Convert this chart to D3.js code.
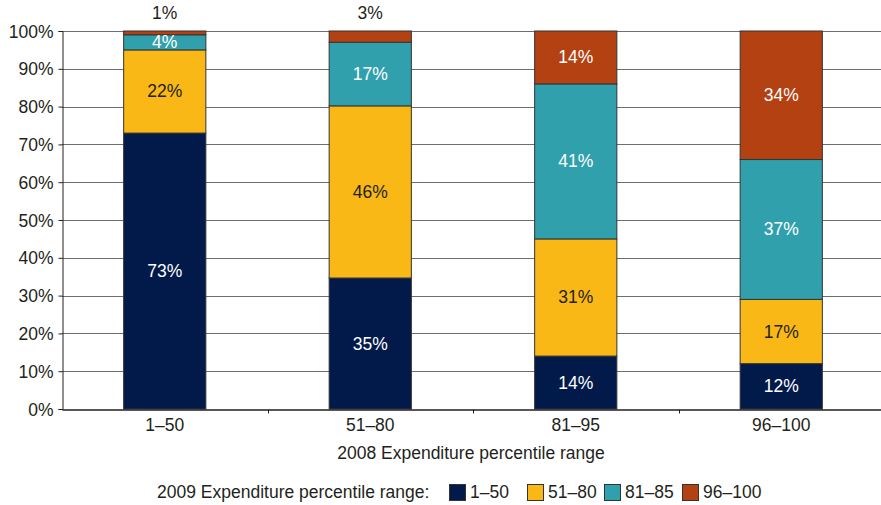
<!DOCTYPE html>
<html lang="en">
<head>
<meta charset="utf-8">
<title>Expenditure percentile transitions</title>
<script src="https://cdn.jsdelivr.net/npm/d3@7"></script>
<style>
  body { margin: 0; background: #fff; }
  text { font-family: "Liberation Sans", Arial, Helvetica, sans-serif; fill: #231f20; }
</style>
</head>
<body>
<script>
// 2008 groups (x axis)
var groups2008 = ["1\u201350", "51\u201380", "81\u201395", "96\u2013100"];
// 2009 groups (stack layers)
var groups2009 = ["1\u201350", "51\u201380", "81\u201385", "96\u2013100"];
var colors = ["#021a4a", "#f9b816", "#31a0ad", "#b34112"];
var labelColors = ["#fff", "#231f20", "#fff", "#fff"];

// share (%) of each 2008 group landing in each 2009 group
var pct1to50   = [73, 22, 4, 1];
var pct51to80  = [35, 46, 17, 3];
var pct81to95  = [14, 31, 41, 14];
var pct96to100 = [12, 17, 37, 34];

var yTicks = [0, 10, 20, 30, 40, 50, 60, 70, 80, 90, 100];

var w = 881, h = 505;
var margin = {top: 31, right: 1, bottom: 96, left: 62};
var fs = "17.5px";

var rows = [pct1to50, pct51to80, pct81to95, pct96to100].map(function(v, i) {
  var total = d3.sum(v);
  var r = {group: groups2008[i]};
  v.forEach(function(p, j) { r["k" + j] = p * 100 / total; r["l" + j] = p; });
  return r;
});
var keys = groups2009.map(function(d, j) { return "k" + j; });
var series = d3.stack().keys(keys)(rows);

var svg = d3.select("body").append("svg").attr("width", w).attr("height", h);

// band range runs a little past the right edge, like the original
var x = d3.scaleBand().domain(groups2008)
  .range([margin.left, 884]).paddingInner(0.6).paddingOuter(0.3);
var y = d3.scaleLinear().domain([0, 100]).range([h - margin.bottom, margin.top]);

// gridlines
svg.append("g").selectAll("line").data(yTicks.slice(1)).enter().append("line")
  .attr("x1", margin.left).attr("x2", w)
  .attr("y1", function(d) { return Math.round(y(d)) + 0.5; })
  .attr("y2", function(d) { return Math.round(y(d)) + 0.5; })
  .attr("stroke", "#6d6e71").attr("stroke-width", 1);

// bars
svg.append("g").selectAll("g").data(series).enter().append("g")
  .attr("fill", function(d, i) { return colors[i]; })
  .selectAll("rect").data(function(d) { return d; }).enter().append("rect")
  .attr("x", function(d) { return x(d.data.group); })
  .attr("width", x.bandwidth())
  .attr("y", function(d) { return y(d[1]); })
  .attr("height", function(d) { return y(d[0]) - y(d[1]); })
  .attr("stroke", "#333").attr("stroke-width", 1);

// segment labels
series.forEach(function(s, i) {
  svg.append("g").selectAll("text").data(s).enter().append("text")
    .attr("x", function(d) { return x(d.data.group) + x.bandwidth() / 2; })
    .attr("y", function(d) {
      if (d[1] - d[0] < 3.5) return 19;
      return (y(d[0]) + y(d[1])) / 2 + 6;
    })
    .attr("text-anchor", "middle")
    .style("font-size", fs)
    .style("fill", function(d) { return d[1] - d[0] < 3.5 ? "#231f20" : labelColors[i]; })
    .text(function(d) { return d.data["l" + i] + "%"; });
});

// y axis
var yAxis = d3.axisLeft(y).tickValues(yTicks).tickSize(4)
  .tickFormat(function(d) { return d + "%"; });
var gy = svg.append("g").attr("transform", "translate(" + (margin.left + 0.5) + ",0)").call(yAxis);
gy.select(".domain").attr("stroke", "#231f20");
gy.selectAll(".tick line").attr("stroke", "#231f20");
gy.selectAll("text").style("font-size", fs).attr("x", -9).attr("dy", "0.35em");

// x axis
var xAxis = d3.axisBottom(x).tickSize(0).tickPadding(9);
var gx = svg.append("g").attr("transform", "translate(0," + (Math.round(y(0)) + 0.5) + ")").call(xAxis);
gx.select(".domain").attr("stroke", "#231f20").attr("stroke-width", 1.5);
gx.selectAll("text").style("font-size", fs);
// separator ticks between categories
gx.selectAll(".sep").data(groups2008.slice(1)).enter().append("line")
  .attr("x1", function(d) { return Math.round(x(d) - x.step() * x.paddingInner() / 2) + 0.5; })
  .attr("x2", function(d) { return Math.round(x(d) - x.step() * x.paddingInner() / 2) + 0.5; })
  .attr("y1", 0).attr("y2", 4).attr("stroke", "#231f20");

svg.append("text")
  .attr("x", 471).attr("y", 459)
  .attr("text-anchor", "middle").style("font-size", fs)
  .text("2008 Expenditure percentile range");

// legend
var lg = svg.append("g").attr("transform", "translate(0,492)");
lg.append("text").attr("x", 157).attr("y", 6).style("font-size", fs)
  .text("2009 Expenditure percentile range:");
var lx = [449, 527, 604, 682];
groups2009.forEach(function(g, i) {
  lg.append("rect").attr("x", lx[i] + 0.5).attr("y", -7.5).attr("width", 16).attr("height", 16)
    .attr("fill", colors[i]).attr("stroke", "#333");
  lg.append("text").attr("x", lx[i] + 21).attr("y", 6).style("font-size", fs).text(g);
});
</script>
</body>
</html>
